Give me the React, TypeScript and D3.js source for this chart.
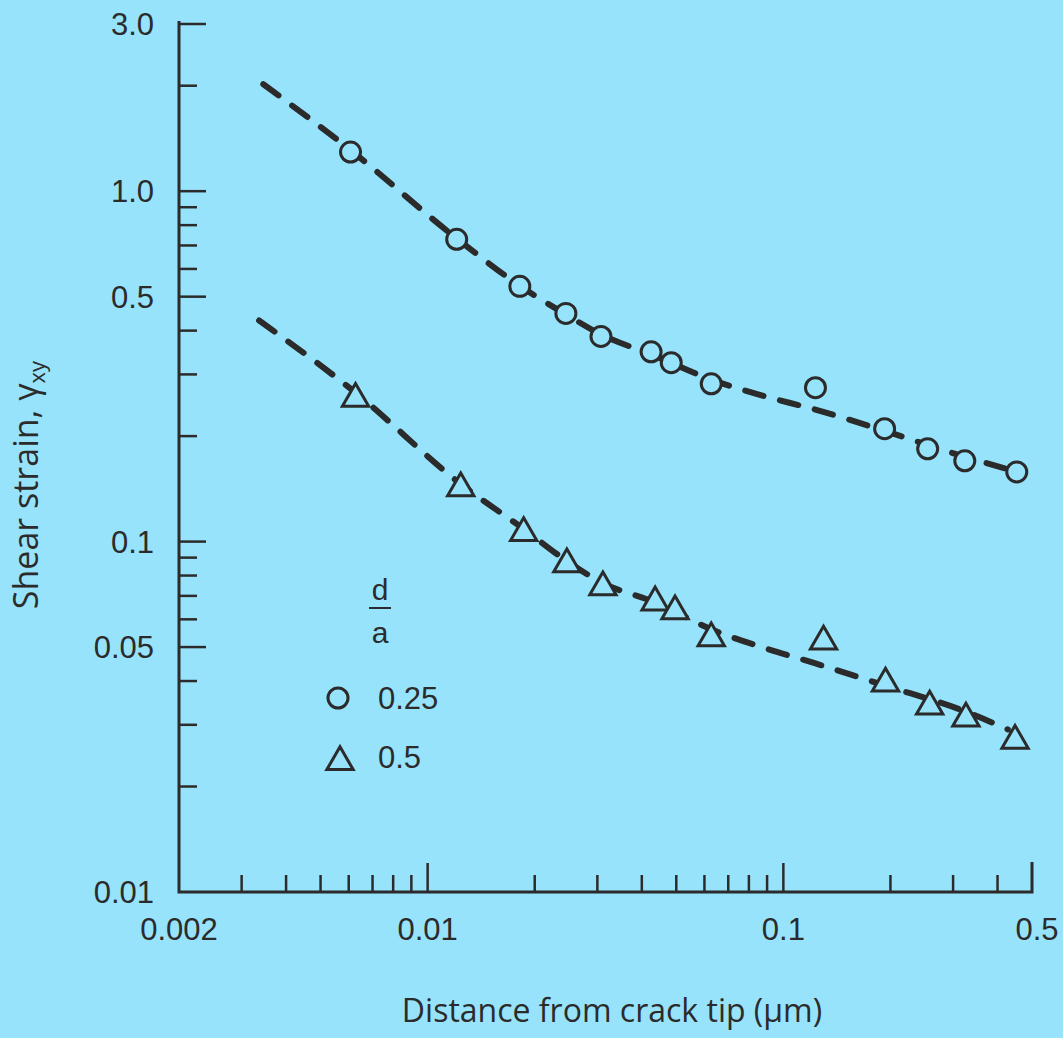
import React from 'react';
import * as d3 from 'd3';

// d/a = 0.25 (circles)
const circleX = [0.00607, 0.01207, 0.01816, 0.02447, 0.03071, 0.04248, 0.0484, 0.0627, 0.1231, 0.1926, 0.2545, 0.3236, 0.453];
const circleY = [1.293, 0.729, 0.535, 0.448, 0.385, 0.348, 0.324, 0.282, 0.275, 0.21, 0.184, 0.17, 0.158];

// d/a = 0.5 (triangles)
const triX = [0.00627, 0.01239, 0.01862, 0.02463, 0.0311, 0.0436, 0.0496, 0.0627, 0.1297, 0.1937, 0.2578, 0.326, 0.448];
const triY = [0.259, 0.144, 0.1072, 0.0874, 0.0751, 0.068, 0.0641, 0.0537, 0.0526, 0.0399, 0.0343, 0.0317, 0.0274];

// dashed fitted curves
const upperFitX = [0.00345, 0.00607, 0.01207, 0.01816, 0.02447, 0.0307, 0.0425, 0.0627, 0.0873, 0.1231, 0.1926, 0.3236, 0.4276];
const upperFitY = [2.02, 1.31, 0.733, 0.537, 0.445, 0.39, 0.342, 0.29, 0.261, 0.238, 0.207, 0.1745, 0.161];
const lowerFitX = [0.00336, 0.00627, 0.01239, 0.01862, 0.02463, 0.0311, 0.0436, 0.0627, 0.0873, 0.1231, 0.1937, 0.326, 0.4276];
const lowerFitY = [0.4275, 0.266, 0.146, 0.1086, 0.088, 0.0761, 0.0671, 0.0562, 0.0499, 0.0449, 0.0388, 0.0327, 0.0291];

const xLabelTicks = [0.002, 0.01, 0.1, 0.5];
const xLabels = ['0.002', '0.01', '0.1', '0.5'];
const xMinor = [0.003, 0.004, 0.005, 0.006, 0.007, 0.008, 0.009, 0.02, 0.03, 0.04, 0.05, 0.06, 0.07, 0.08, 0.09, 0.2, 0.3, 0.4];

const yLabelTicks = [3, 1, 0.5, 0.1, 0.05, 0.01];
const yLabels = ['3.0', '1.0', '0.5', '0.1', '0.05', '0.01'];
const yMinor = [2, 0.9, 0.8, 0.7, 0.6, 0.4, 0.3, 0.2, 0.09, 0.08, 0.07, 0.06, 0.04, 0.03, 0.02];

const width = 1063;
const height = 1038;
const bg = '#97e3fb';
const ink = '#2b2b2b';
const numFont = '"Liberation Sans", Arial, sans-serif';
const textFont = '"Open Sans", "Noto Sans", sans-serif';

export default function App() {
  const x = d3.scaleLog().domain([0.002, 0.5]).range([179, 1032]);
  const y = d3.scaleLog().domain([0.01, 3]).range([892, 24]);

  const line = d3.line<[number, number]>()
    .x(d => x(d[0]))
    .y(d => y(d[1]))
    .curve(d3.curveMonotoneX);

  const upper = line(upperFitX.map((v, i) => [v, upperFitY[i]]));
  const lower = line(lowerFitX.map((v, i) => [v, lowerFitY[i]]));

  const circ = d3.symbol().type(d3.symbolCircle).size(Math.PI * 100)();
  const tri = d3.symbol().type(d3.symbolTriangle).size(300)();

  const x0 = x(0.002);
  const y0 = y(0.01);

  return (
    <div style={{ position: 'fixed', left: 0, top: 0, width, height, background: bg }}>
      <svg width={width} height={height} style={{ display: 'block' }}>
        <rect width={width} height={height} fill={bg} />

        {/* axes */}
        <path d={`M${x0},${y(3) - 3}V${y0}H${x(0.5)}V${y0 - 30}`} fill="none" stroke={ink} strokeWidth={3} />
        {yLabelTicks.filter(v => v !== 0.01).map(v => (
          <line key={'ym' + v} x1={x0} x2={x0 + 27} y1={y(v)} y2={y(v)} stroke={ink} strokeWidth={2.5} />
        ))}
        {yMinor.map(v => (
          <line key={'yn' + v} x1={x0} x2={x0 + 18} y1={y(v)} y2={y(v)} stroke={ink} strokeWidth={2.5} />
        ))}
        <line x1={x(0.01)} x2={x(0.01)} y1={y0} y2={y0 - 29} stroke={ink} strokeWidth={2.5} />
        <line x1={x(0.1)} x2={x(0.1)} y1={y0} y2={y0 - 29} stroke={ink} strokeWidth={2.5} />
        {xMinor.map(v => (
          <line key={'xn' + v} x1={x(v)} x2={x(v)} y1={y0} y2={y0 - 17} stroke={ink} strokeWidth={2.5} />
        ))}

        {yLabelTicks.map((v, i) => (
          <text key={'yl' + v} x={154} y={y(v) + 11} textAnchor="end" fontFamily={numFont} fontSize={31} fill={ink}>{yLabels[i]}</text>
        ))}
        {xLabelTicks.map((v, i) => (
          <text key={'xl' + v} x={x(v) + (v === 0.5 ? 5 : 0)} y={940} textAnchor="middle" fontFamily={numFont} fontSize={31} fill={ink}>{xLabels[i]}</text>
        ))}

        {/* titles */}
        <text x={612} y={1022} textAnchor="middle" fontFamily={textFont} fontSize={32} fill={ink}>Distance from crack tip (μm)</text>
        <text transform="translate(38,485) rotate(-90)" textAnchor="middle" fontFamily={textFont} fontSize={34} fill={ink}>
          Shear strain, γ<tspan fontSize={22} dy={7}>xy</tspan>
        </text>

        {/* fitted curves */}
        <path d={upper ?? ''} fill="none" stroke={ink} strokeWidth={6} strokeDasharray="19 17" strokeLinecap="round" />
        <path d={lower ?? ''} fill="none" stroke={ink} strokeWidth={6} strokeDasharray="19 17" strokeLinecap="round" />

        {/* data */}
        {circleX.map((v, i) => (
          <path key={'c' + i} d={circ ?? ''} transform={`translate(${x(v)},${y(circleY[i])})`} fill={bg} stroke={ink} strokeWidth={3} />
        ))}
        {triX.map((v, i) => (
          <path key={'t' + i} d={tri ?? ''} transform={`translate(${x(v)},${y(triY[i]) + 2})`} fill={bg} stroke={ink} strokeWidth={3} strokeLinejoin="miter" />
        ))}

        {/* legend */}
        <text x={380} y={600} textAnchor="middle" fontFamily={numFont} fontSize={30} fill={ink}>d</text>
        <line x1={369} x2={391} y1={608} y2={608} stroke={ink} strokeWidth={2} />
        <text x={380} y={643} textAnchor="middle" fontFamily={numFont} fontSize={30} fill={ink}>a</text>
        <path d={circ ?? ''} transform="translate(338,698)" fill={bg} stroke={ink} strokeWidth={3} />
        <text x={378} y={709} fontFamily={numFont} fontSize={31} fill={ink}>0.25</text>
        <path d={tri ?? ''} transform="translate(340,762)" fill={bg} stroke={ink} strokeWidth={3} />
        <text x={378} y={768} fontFamily={numFont} fontSize={31} fill={ink}>0.5</text>
      </svg>
    </div>
  );
}
